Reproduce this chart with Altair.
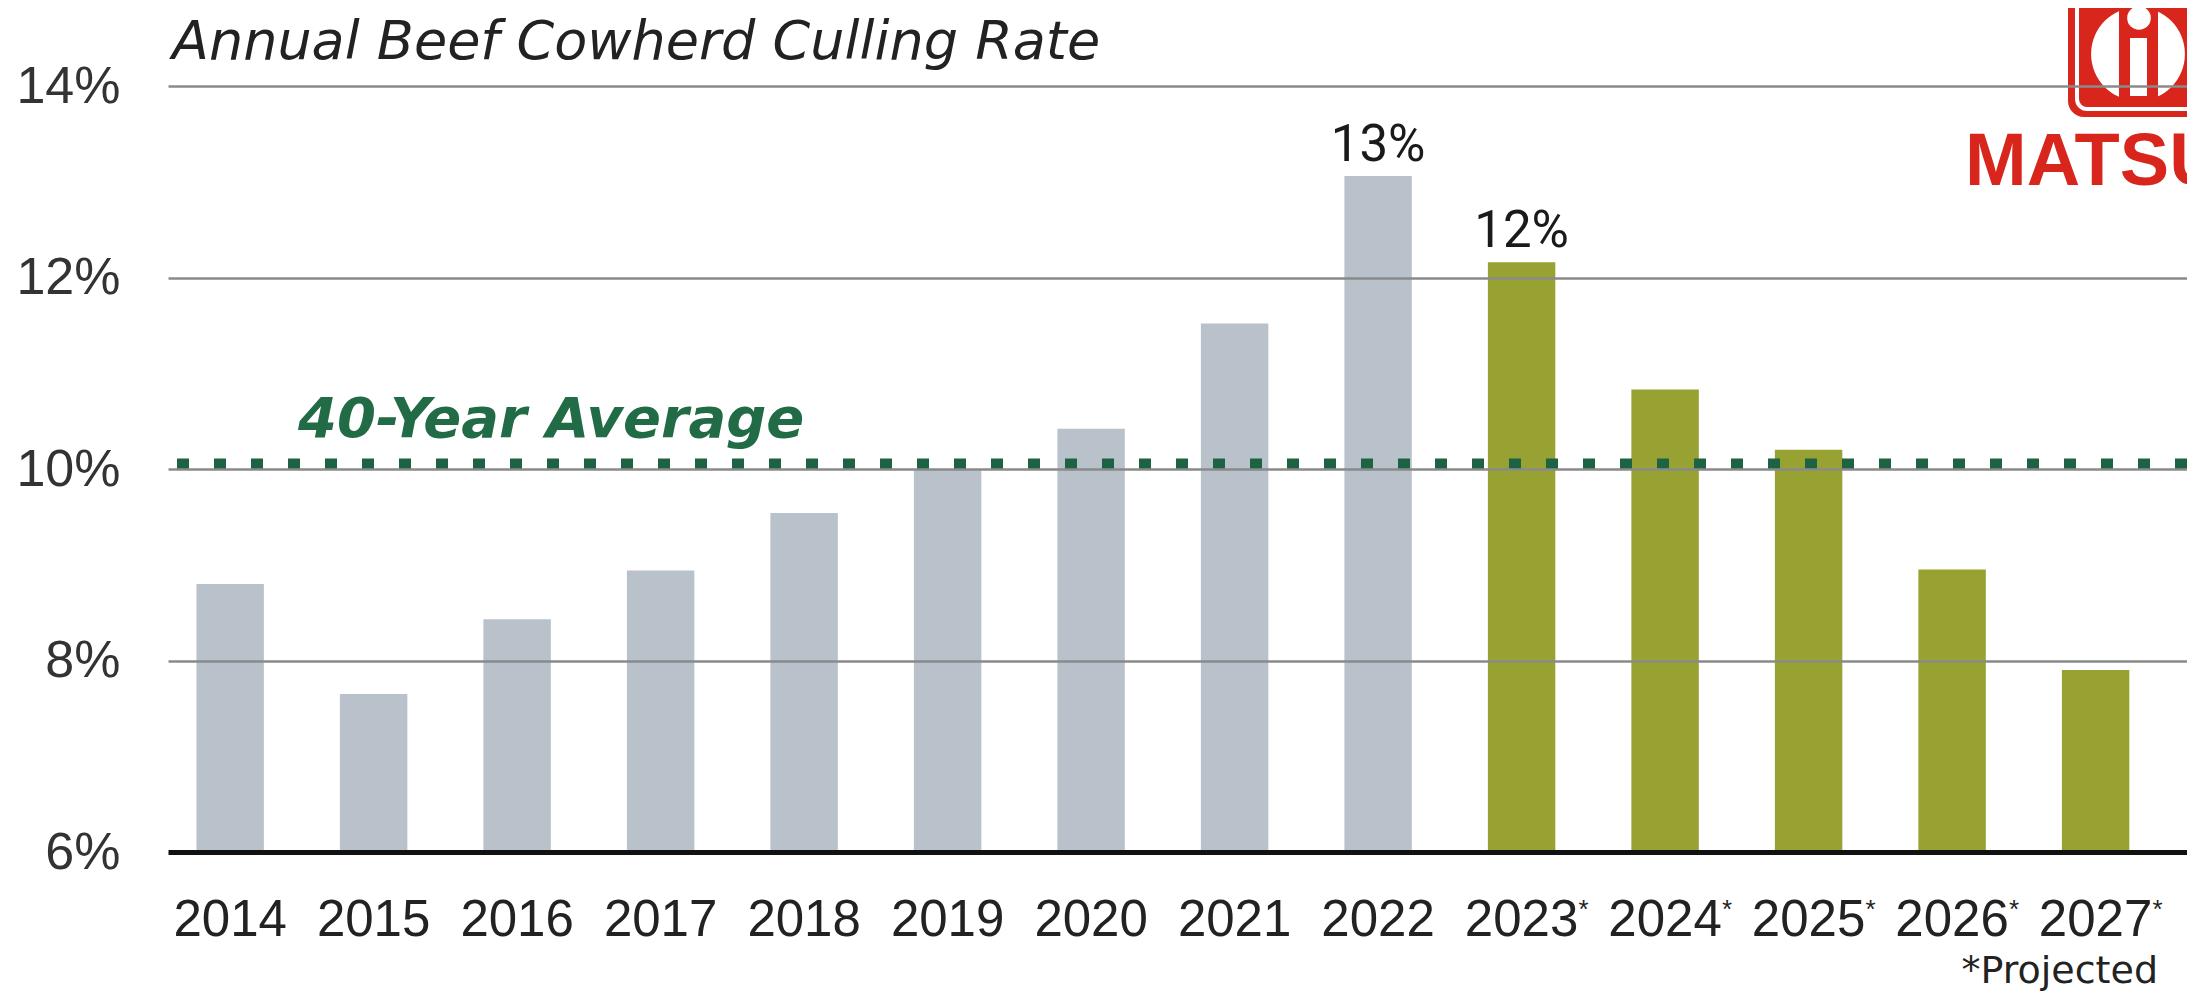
import altair as alt
import pandas as pd

# ---- data ----
years = ["2014", "2015", "2016", "2017", "2018", "2019", "2020",
         "2021", "2022", "2023", "2024", "2025", "2026", "2027"]
rates = [8.8, 7.65, 8.43, 8.94, 9.54, 10.0, 10.42,
         11.52, 13.06, 12.16, 10.83, 10.2, 8.95, 7.9]
projected = [False] * 9 + [True] * 5
bar_labels = [""] * 8 + ["13%", "12%"] + [""] * 4
average_value = 10.0
average_label = "40-Year Average"
y_ticks = [6, 8, 10, 12, 14]
title_text = "Annual Beef Cowherd Culling Rate"
note_text = "*Projected"

df = pd.DataFrame({
    "year": years,
    "rate": rates,
    "status": ["Projected" if p else "Actual" for p in projected],
    "label": bar_labels,
})
avg_df = pd.DataFrame({"rate": [average_value], "avg_label": [average_label]})
one = pd.DataFrame({"t": [title_text], "n": [note_text]})

W, H = 2019, 766
RED = "#d8261d"

xscale = alt.Scale(domain=years, paddingInner=0.53, paddingOuter=0.3, align=0.33)
yscale = alt.Scale(domain=[6, 14], nice=False, zero=False)

x_axis = alt.Axis(title=None, labelAngle=0, labelFont="Liberation Sans",
                  labelFontSize=51, labelColor="#222222",
                  labelBaseline="alphabetic", labelPadding=83,
                  ticks=False, tickSize=0, domainColor="#111111",
                  domainWidth=5, grid=False, zindex=1)
y_axis = alt.Axis(title=None, values=y_ticks, labelExpr="datum.value + '%'",
                  labelFont="Liberation Sans", labelFontSize=52,
                  labelColor="#333333", labelPadding=48, ticks=False,
                  tickSize=0, domain=False, grid=True,
                  gridColor={"condition": {"test": "datum.value === 6",
                                           "value": "transparent"},
                             "value": "#8a8a8a"},
                  gridWidth=2.5, zindex=1)

x_enc = alt.X("year:N", scale=xscale, axis=x_axis)
y_enc = alt.Y("rate:Q", scale=yscale, axis=y_axis)

bars = alt.Chart(df).mark_bar().encode(
    x=x_enc,
    y=y_enc,
    y2=alt.datum(6),
    color=alt.Color("status:N",
                    scale=alt.Scale(domain=["Actual", "Projected"],
                                    range=["#b9c2cb", "#98a233"]),
                    legend=None),
)

bar_text = alt.Chart(df).transform_filter("datum.label != ''").mark_text(
    baseline="alphabetic", dy=-15, font="Roboto", fontSize=51, color="#1a1a1a"
).encode(x=x_enc, y=y_enc, text="label:N")

asterisks = alt.Chart(df).transform_filter("datum.status == 'Projected'").mark_text(
    text="*", baseline="top", dx=62, font="Liberation Sans", fontSize=26,
    color="#222222"
).encode(x=x_enc, y=alt.value(H + 45))

avg_rule = alt.Chart(avg_df).mark_rule(
    color="#1d6343", strokeWidth=11, strokeDash=[12, 25], yOffset=-5
).encode(y=y_enc)

avg_text = alt.Chart(avg_df).mark_text(
    align="left", baseline="alphabetic", dy=-32, font="DejaVu Sans",
    fontSize=56, fontStyle="italic", fontWeight="bold", color="#216b46"
).encode(x=alt.value(130), y=y_enc, text="avg_label:N")

title = alt.Chart(one).mark_text(
    align="left", baseline="alphabetic", font="DejaVu Sans", fontSize=54,
    fontStyle="italic", color="#222222"
).encode(x=alt.value(4), y=alt.value(-27), text="t:N")

note = alt.Chart(one).mark_text(
    align="right", baseline="alphabetic", font="DejaVu Sans", fontSize=38,
    fontWeight=500, color="#222222"
).encode(x=alt.value(1990), y=alt.value(897), text="n:N")

# logo (decorative, top right corner)
logo_box = alt.Chart(one).mark_rect(color=RED, cornerRadius=16).encode(
    x=alt.value(1900), x2=alt.value(2070), y=alt.value(-100), y2=alt.value(31))
logo_inner = alt.Chart(one).mark_rect(
    color=RED, stroke="white", strokeWidth=4, cornerRadius=10
).encode(x=alt.value(1909), x2=alt.value(2070), y=alt.value(-100), y2=alt.value(23))
logo_ring = alt.Chart(one).mark_point(
    shape="circle", filled=True, color="white", size=8800, opacity=1
).encode(x=alt.value(1970), y=alt.value(-32))
logo_gap = alt.Chart(one).mark_rect(color=RED).encode(
    x=alt.value(1951), x2=alt.value(1990), y=alt.value(-84), y2=alt.value(20))
logo_stem = alt.Chart(one).mark_rect(color="white").encode(
    x=alt.value(1962), x2=alt.value(1979), y=alt.value(-48), y2=alt.value(10))
logo_dot = alt.Chart(one).mark_point(
    shape="circle", filled=True, color="white", size=560, opacity=1
).encode(x=alt.value(1971), y=alt.value(-68))
logo_word = alt.Chart(one).mark_text(
    text="MATSU", align="left", baseline="alphabetic", font="Liberation Sans",
    fontSize=74, fontWeight=900, color=RED
).encode(x=alt.value(1797), y=alt.value(99))

chart = alt.layer(
    bars, bar_text, asterisks, avg_rule, avg_text, title, note,
    logo_box, logo_inner, logo_ring, logo_gap, logo_stem, logo_dot, logo_word
).properties(
    width=W, height=H,
    padding={"left": 160, "top": 78, "right": 0, "bottom": 140},
    autosize=alt.AutoSizeParams(type="none"),
    background="white",
).configure_view(stroke=None)

chart.save("out.html", embed_options={"renderer": "svg", "actions": False})
